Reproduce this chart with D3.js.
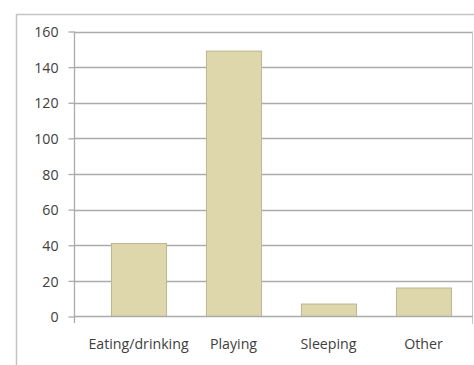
<!DOCTYPE html>
<html>
<head>
<meta charset="utf-8">
<script src="https://cdn.jsdelivr.net/npm/d3@7"></script>
<style>
  html, body { margin: 0; padding: 0; background: #fff; }
  svg { display: block; }
  text { font-family: "Open Sans", "DejaVu Sans", sans-serif; fill: #404040; }
</style>
</head>
<body>
<svg id="chart" width="474" height="365"></svg>
<script>
// Activity counts
const categories = ["Eating/drinking", "Playing", "Sleeping", "Other"];
const values = [41, 149, 7, 16];
const yTicks = [0, 20, 40, 60, 80, 100, 120, 140, 160];

const svg = d3.select("#chart");
const W = 474, H = 365;

// chart frame
svg.append("path")
  .attr("d", `M16.5,${H} V14.5 H${W}`)
  .attr("fill", "none")
  .attr("stroke", "#c4c4c4")
  .attr("stroke-width", 1.5);

const plotLeft = 74.5, plotRight = 473;
const y = d3.scaleLinear().domain([0, 160]).range([316.5, 31.5]);
const x = d3.scaleBand().domain(categories)
  .range([91, 471]).paddingInner(0.42).paddingOuter(0.21);

// horizontal gridlines
svg.append("g").selectAll("line")
  .data(yTicks.filter(d => d > 0))
  .join("line")
  .attr("x1", plotLeft).attr("x2", plotRight)
  .attr("y1", d => Math.round(y(d)) + 0.5).attr("y2", d => Math.round(y(d)) + 0.5)
  .attr("stroke", "#ababab").attr("stroke-width", 1.3);

// right edge of plot area
svg.append("line")
  .attr("x1", plotRight - 0.5).attr("x2", plotRight - 0.5)
  .attr("y1", y(160)).attr("y2", 324)
  .attr("stroke", "#c8c8c8").attr("stroke-width", 1);

// y axis
const yAxis = d3.axisLeft(y).tickValues(yTicks).tickSize(6).tickPadding(10).tickSizeOuter(0);
const gy = svg.append("g").attr("transform", `translate(${plotLeft},0)`).call(yAxis);
gy.select(".domain").remove();
gy.selectAll(".tick line").attr("stroke", "#ababab").attr("stroke-width", 1.3);
gy.selectAll(".tick text").attr("font-size", 14.2).attr("fill", "#404040")
  .attr("dy", "0.36em");
gy.append("line")
  .attr("x1", 0).attr("x2", 0)
  .attr("y1", y(160)).attr("y2", 323)
  .attr("stroke", "#ababab").attr("stroke-width", 1.3);

// bars
svg.append("g").selectAll("rect")
  .data(values)
  .join("rect")
  .attr("x", (d, i) => x(categories[i]) + 0.5)
  .attr("width", x.bandwidth())
  .attr("y", d => y(d))
  .attr("height", d => y(0) - y(d))
  .attr("fill", "#ddd7ab")
  .attr("stroke", "#b9b594")
  .attr("stroke-width", 1);

// x axis baseline
svg.append("line")
  .attr("x1", plotLeft).attr("x2", plotRight)
  .attr("y1", y(0)).attr("y2", y(0))
  .attr("stroke", "#ababab").attr("stroke-width", 1.3);

// category labels
svg.append("g").selectAll("text")
  .data(categories)
  .join("text")
  .attr("x", d => x(d) + x.bandwidth() / 2)
  .attr("y", 349)
  .attr("text-anchor", "middle")
  .attr("font-size", 14.2)
  .text(d => d);
</script>
</body>
</html>
